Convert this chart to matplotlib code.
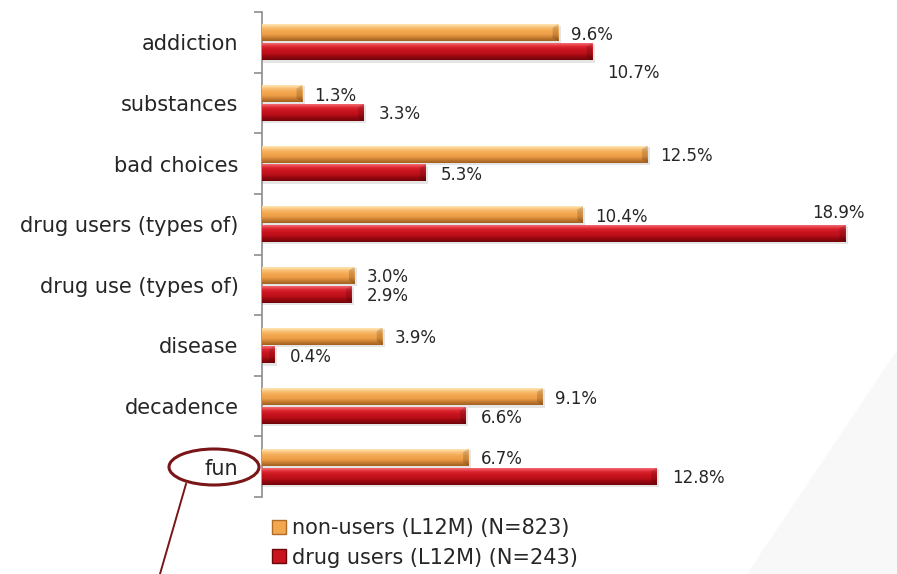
import numpy as np
import matplotlib
matplotlib.use("Agg")
import matplotlib.pyplot as plt
from matplotlib.patches import Ellipse, Polygon, Rectangle
from matplotlib.lines import Line2D
from matplotlib.colors import LinearSegmentedColormap

categories = ["addiction", "substances", "bad choices", "drug users (types of)",
              "drug use (types of)", "disease", "decadence", "fun"]
non_users = [9.6, 1.3, 12.5, 10.4, 3.0, 3.9, 9.1, 6.7]
drug_users = [10.7, 3.3, 5.3, 18.9, 2.9, 0.4, 6.6, 12.8]
series_names = ["non-users (L12M) (N=823)", "drug users (L12M) (N=243)"]

# label nudges in points (dx, dy) for labels that sit away from their bar end
red_nudges = {0: (0, -14), 3: (-35, 16)}

FONT = ["DejaVu Sans"]
plt.rcParams["font.family"] = FONT
TXT = "#262626"

W, H = 897, 574
fig = plt.figure(figsize=(W / 100, H / 100), dpi=100)
fig.patch.set_facecolor("white")

# faint diagonal background panel
fig.patches.append(Polygon([(747 / W, 0), (1.0, 224 / H), (1.0, 0)], closed=True,
                           transform=fig.transFigure, facecolor="#F8F8F8",
                           edgecolor="none", zorder=0))

ax = fig.add_axes([262 / W, 1 - 497 / H, (W - 262) / W, (497 - 12) / H])
ax.set_facecolor("none")
ax.set_xlim(0, (W - 262) / 30.85)
ax.set_ylim(len(categories) - 0.5, -0.5)

y = np.arange(len(categories))
bh = 0.28
off = 0.155

orange_cmap = LinearSegmentedColormap.from_list(
    "o", ["#FFE7B8", "#F9BE72", "#F3A850", "#EFA048", "#C97E32", "#A0601F"])
red_cmap = LinearSegmentedColormap.from_list(
    "r", ["#F46C74", "#DC2630", "#C8141F", "#BD101A", "#96080F", "#6E050A"])

grad = np.linspace(0, 1, 64).reshape(-1, 1)


def shaded_bars(vals, ypos, cmap):
    bars = ax.barh(ypos, vals, height=bh, color="none", edgecolor="none", zorder=3)
    for b in bars:
        x0, yb = b.get_x(), b.get_y()
        w, h = b.get_width(), b.get_height()
        # soft shadow under the bar
        ax.add_patch(Rectangle((x0, yb + 0.02), w + 0.08, h + 0.02,
                               facecolor="#000000", alpha=0.10, edgecolor="none",
                               zorder=2))
        im = ax.imshow(grad, cmap=cmap, aspect="auto",
                       extent=(x0, x0 + w, yb + h, yb), zorder=3,
                       interpolation="bicubic")
        im.set_clip_path(b)
        # bevelled end cap
        cap = min(0.18, w * 0.4)
        ax.add_patch(Polygon([(x0 + w - cap, yb + h * 0.2), (x0 + w, yb),
                              (x0 + w, yb + h), (x0 + w - cap, yb + h * 0.8)],
                             closed=True, facecolor="#000000", alpha=0.15,
                             edgecolor="none", zorder=4))
    return bars


shaded_bars(non_users, y - off, orange_cmap)
shaded_bars(drug_users, y + off, red_cmap)

for i, v in enumerate(non_users):
    ax.annotate(f"{v:.1f}%", (v, i - off), xytext=(9, -1.5), textcoords="offset points",
                ha="left", va="center", fontsize=12, color=TXT, zorder=5)
for i, v in enumerate(drug_users):
    dx, dy = red_nudges.get(i, (0, 0))
    ax.annotate(f"{v:.1f}%", (v, i + off), xytext=(11 + dx, -1.5 + dy),
                textcoords="offset points", ha="left", va="center",
                fontsize=12, color=TXT, zorder=5)

# axis line with ticks at category boundaries
for s in ["top", "right", "bottom"]:
    ax.spines[s].set_visible(False)
ax.spines["left"].set_color("#8C8C8C")
ax.spines["left"].set_linewidth(1.2)
ax.set_xticks([])
ax.set_yticks(np.arange(len(categories) + 1) - 0.5, minor=True)
ax.tick_params(axis="y", which="minor", length=6, color="#8C8C8C", width=1.2)
ax.set_yticks(y)
ax.set_yticklabels(categories, fontsize=15, color=TXT)
ax.tick_params(axis="y", which="major", length=0, pad=17)

# legend
handles = [Line2D([0], [0], marker="s", linestyle="none", markersize=10,
                  markerfacecolor=c, markeredgecolor=e)
           for c, e in [("#F3A850", "#B06C28"), ("#C8141F", "#6E050A")]]
fig.legend(handles, series_names, loc="upper left",
           bbox_to_anchor=(262 / W, 1 - 510 / H), frameon=False, fontsize=15,
           handlelength=0.8, handletextpad=0.25, labelspacing=0.45,
           borderaxespad=0, labelcolor=TXT)

# highlight ring around "fun" with a pointer line
fig.patches.append(Ellipse((214 / W, 1 - 467 / H), 90 / W, 36 / H,
                           transform=fig.transFigure, facecolor="none",
                           edgecolor="#7A1518", linewidth=2.2, zorder=6))
fig.lines.append(Line2D([186 / W, 160 / W], [1 - 484 / H, 0.0],
                        transform=fig.transFigure, color="#7A1518",
                        linewidth=1.4, zorder=6))

fig.savefig("out.png", dpi=100)
